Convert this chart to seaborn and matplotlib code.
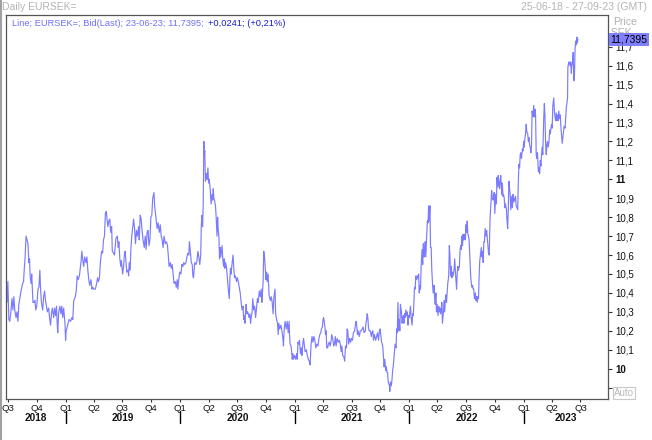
import matplotlib
matplotlib.use("Agg")
import matplotlib.pyplot as plt
import pandas as pd
import seaborn as sns
from matplotlib.lines import Line2D

START = "2018-06-25"
END_VIEW = "2023-09-27"

# (days since 25-06-18, EURSEK bid)
seg_2018 = [(0,10.40),(3,10.35),(6,10.46),(9,10.26),(12,10.25),(15,10.29),(19,10.37),(22,10.31),(25,10.38),(28,10.31),
            (32,10.27),(35,10.30),(38,10.25),(41,10.34),(45,10.38),(48,10.41),(53,10.45),(56,10.46),(58,10.52),(61,10.59),
            (64,10.70),(67,10.68),(70,10.66),(73,10.56),(75,10.58),(77,10.49),(80,10.45),(82,10.50),(86,10.35),(89,10.35),
            (92,10.36),(95,10.31),(98,10.33),(102,10.42),(105,10.43),(108,10.52),(110,10.43),(113,10.35),(117,10.31),(120,10.38),
            (123,10.41),(126,10.36),(129,10.33),(132,10.30),(136,10.32),(139,10.27),(142,10.23),(145,10.29),(148,10.32),(152,10.27),
            (155,10.32),(158,10.28),(161,10.33),(163,10.25),(165,10.19),(168,10.30),(172,10.33),(175,10.29),(178,10.33),(181,10.27),
            (184,10.32),(188,10.24),(190,10.15),(192,10.20),(195,10.22),(198,10.24),(201,10.26),(206,10.25),(210,10.27),(213,10.26),
            (216,10.36),(221,10.38),(224,10.41),(227,10.49),(230,10.47),(234,10.49),(239,10.56),(242,10.62),(245,10.57),(248,10.54),
            (251,10.59),(255,10.56),(258,10.59),(261,10.52),(264,10.47),(267,10.44),(271,10.47),(274,10.42),(277,10.43),(280,10.42)]
seg_2019 = [(285,10.42),(289,10.45),(292,10.48),(295,10.46),(298,10.48),(301,10.56),(305,10.62),(308,10.61),(311,10.68),(314,10.70),
            (317,10.82),(320,10.83),(322,10.79),(325,10.75),(328,10.78),(331,10.79),(334,10.72),(337,10.75),(339,10.62),(343,10.61),
            (346,10.60),(348,10.64),(351,10.69),(355,10.70),(358,10.64),(360,10.67),(363,10.58),(366,10.54),(368,10.57),(372,10.50),
            (375,10.54),(378,10.61),(380,10.62),(383,10.56),(385,10.51),(389,10.52),(391,10.49),(393,10.56),(396,10.52),(398,10.62),
            (401,10.70),(405,10.76),(407,10.79),(410,10.74),(413,10.66),(416,10.73),(419,10.70),(423,10.75),(425,10.68),(428,10.81),
            (431,10.79),(434,10.73),(437,10.68),(441,10.64),(444,10.70),(447,10.63),(450,10.72),(453,10.73),(456,10.65),(459,10.68),
            (462,10.80),(465,10.81),(468,10.90),(472,10.93),(474,10.86),(476,10.83),(479,10.79),(482,10.74),(485,10.77),(489,10.72),
            (492,10.76),(495,10.70),(498,10.68),(501,10.64),(504,10.70),(508,10.66),(512,10.67),(515,10.65),(518,10.59),(520,10.54),
            (524,10.56),(527,10.53),(530,10.55),(533,10.50),(536,10.45),(540,10.46),(543,10.43),(546,10.47),(548,10.42),(551,10.47),
            (554,10.51),(558,10.50),(561,10.55),(564,10.54),(567,10.56),(570,10.55),(574,10.56),(577,10.59),(580,10.61),(583,10.60)]
seg_2020 = [(585,10.67),(587,10.64),(591,10.56),(594,10.55),(596,10.49),(598,10.48),(600,10.52),(602,10.56),(606,10.55),(609,10.57),
            (612,10.62),(615,10.59),(618,10.55),(621,10.60),(623,10.76),(625,10.81),(627,10.75),(629,10.87),(631,11.20),(632,11.13),
            (634,11.15),(636,10.99),(639,11.03),(641,11.00),(644,11.06),(646,10.98),(648,11.00),(650,10.97),(652,10.93),(654,10.87),
            (657,10.92),(659,10.89),(661,10.95),(663,10.90),(665,10.89),(668,10.86),(670,10.81),(673,10.70),(675,10.80),(677,10.73),
            (679,10.70),(681,10.58),(683,10.64),(685,10.59),(689,10.65),(691,10.59),(694,10.54),(696,10.58),(698,10.53),(700,10.56),
            (703,10.54),(707,10.46),(709,10.42),(712,10.37),(714,10.47),(716,10.53),(718,10.50),(720,10.54),(724,10.60),(727,10.52),
            (729,10.48),(732,10.49),(735,10.46),(738,10.48),(742,10.45),(745,10.42),(747,10.40),(750,10.35),(753,10.31),(756,10.33),
            (758,10.26),(760,10.28),(762,10.24),(764,10.30),(766,10.34),(768,10.29),(771,10.30),(775,10.27),(778,10.29),(780,10.24),
            (782,10.27),(785,10.30),(787,10.37),(790,10.31),(793,10.33),(796,10.27),(799,10.32),(802,10.37),(804,10.35),(808,10.41),
            (811,10.38),(814,10.42),(816,10.35),(818,10.40),(820,10.46),(822,10.62),(825,10.58),(827,10.52),(829,10.47),(831,10.51),
            (833,10.46),(836,10.50),(839,10.39),(843,10.36),(846,10.38),(849,10.35),(852,10.29),(854,10.37),(858,10.42),(860,10.29),
            (863,10.26),(866,10.24),(868,10.18),(870,10.24),(873,10.21),(877,10.23),(880,10.20),(883,10.16),(885,10.12),(887,10.20),
            (890,10.25),(894,10.21),(897,10.25),(900,10.19),(903,10.25)]
seg_2021 = [(904,10.19),(906,10.13),(909,10.12),(911,10.09),(913,10.05),(915,10.08),(917,10.05),(920,10.07),(924,10.05),(927,10.08),
            (929,10.05),(931,10.14),(934,10.13),(936,10.15),(939,10.08),(942,10.11),(944,10.07),(947,10.14),(949,10.16),(951,10.13),
            (954,10.09),(958,10.10),(961,10.07),(964,10.05),(967,10.04),(970,10.02),(973,10.13),(976,10.17),(979,10.14),(982,10.17),
            (985,10.15),(988,10.11),(992,10.13),(995,10.12),(998,10.16),(1001,10.18),(1004,10.19),(1006,10.21),(1009,10.22),(1011,10.26),
            (1013,10.27),(1015,10.25),(1017,10.22),(1019,10.18),(1021,10.20),(1023,10.11),(1026,10.11),(1028,10.13),(1031,10.14),(1034,10.12),
            (1037,10.15),(1039,10.18),(1043,10.15),(1045,10.12),(1048,10.13),(1050,10.17),(1053,10.12),(1056,10.16),(1060,10.14),(1063,10.15),
            (1066,10.13),(1069,10.09),(1071,10.12),(1074,10.07),(1078,10.06),(1080,10.04),(1083,10.12),(1086,10.11),(1088,10.21),(1090,10.20),
            (1093,10.13),(1096,10.16),(1099,10.14),(1102,10.16),(1105,10.15),(1108,10.19),(1112,10.20),(1115,10.24),(1117,10.25),(1119,10.22),
            (1121,10.18),(1123,10.20),(1127,10.17),(1130,10.20),(1133,10.20),(1136,10.21),(1139,10.22),(1142,10.19),(1146,10.20),(1148,10.24),
            (1150,10.26),(1152,10.29),(1154,10.27),(1156,10.22),(1158,10.20),(1162,10.20),(1165,10.17),(1167,10.19),(1170,10.20),(1172,10.15),
            (1175,10.18),(1179,10.15),(1182,10.17),(1185,10.19),(1188,10.15),(1191,10.20),(1193,10.21),(1196,10.17),(1198,10.14),(1200,10.13),
            (1202,10.11),(1204,10.06),(1206,10.01),(1208,10.05),(1211,9.99),(1213,10.01),(1215,9.98),(1217,9.98),(1219,9.93),(1221,9.92),
            (1223,9.91),(1224,9.88),(1226,9.93),(1229,9.91),(1231,9.94),(1233,9.99),(1235,10.01),(1237,10.05)]
seg_2022 = [(1241,10.13),(1244,10.11),(1246,10.21),(1248,10.19),(1250,10.35),(1252,10.20),(1254,10.26),(1256,10.20),(1258,10.34),(1261,10.30),
            (1263,10.24),(1265,10.25),(1267,10.28),(1269,10.24),(1271,10.29),(1273,10.27),(1275,10.31),(1278,10.28),(1280,10.30),(1282,10.23),
            (1284,10.28),(1286,10.27),(1288,10.30),(1290,10.33),(1292,10.27),(1295,10.23),(1297,10.29),(1299,10.28),(1301,10.35),(1303,10.43),
            (1305,10.42),(1307,10.49),(1310,10.47),(1312,10.49),(1314,10.48),(1316,10.50),(1318,10.40),(1320,10.44),(1322,10.42),(1324,10.54),
            (1327,10.63),(1329,10.55),(1331,10.66),(1333,10.59),(1335,10.62),(1337,10.67),(1339,10.59),(1341,10.68),(1344,10.78),(1346,10.77),
            (1348,10.86),(1350,10.78),(1352,10.86),(1354,10.64),(1356,10.64),(1358,10.52),(1361,10.43),(1363,10.40),(1365,10.44),(1367,10.38),
            (1369,10.34),(1371,10.40),(1373,10.30),(1375,10.34),(1378,10.28),(1380,10.33),(1382,10.30),(1384,10.32),(1386,10.29),(1388,10.31),
            (1390,10.35),(1392,10.24),(1395,10.30),(1397,10.36),(1399,10.30),(1401,10.36),(1403,10.39),(1405,10.35),(1407,10.40),(1409,10.45),
            (1412,10.49),(1414,10.65),(1416,10.59),(1418,10.49),(1420,10.54),(1422,10.48),(1424,10.51),(1426,10.49),(1429,10.52),(1431,10.58),
            (1433,10.52),(1435,10.47),(1437,10.42),(1439,10.50),(1441,10.54),(1443,10.52),(1446,10.54),(1448,10.62),(1450,10.65),(1452,10.63),
            (1454,10.70),(1456,10.65),(1458,10.71),(1460,10.68),(1463,10.71),(1465,10.68),(1467,10.76),(1469,10.72),(1471,10.78),(1473,10.71),
            (1475,10.70),(1477,10.68),(1480,10.57),(1482,10.49),(1484,10.45),(1486,10.43),(1488,10.44),(1490,10.42),(1492,10.42),(1494,10.37),
            (1497,10.40),(1499,10.36),(1501,10.38),(1503,10.35),(1505,10.38),(1507,10.37),(1509,10.49),(1511,10.57),(1514,10.61),(1516,10.64),
            (1518,10.59),(1520,10.62),(1522,10.56),(1524,10.67),(1526,10.67),(1528,10.74),(1531,10.70),(1533,10.73),(1535,10.69),(1537,10.65),
            (1539,10.61),(1541,10.60)]
seg_2023 = [(1543,10.74),(1544,10.80),(1547,10.88),(1549,10.94),(1551,10.90),(1553,10.89),(1555,10.90),(1557,10.93),(1559,10.82),(1562,10.92),
            (1564,10.87),(1566,11.01),(1568,10.96),(1570,11.02),(1572,10.98),(1574,10.95),(1576,10.99),(1578,11.02),(1581,10.92),(1583,10.98),
            (1585,10.91),(1587,10.92),(1589,10.90),(1591,10.85),(1593,10.87),(1596,10.84),(1598,10.78),(1600,10.74),(1602,10.84),(1604,10.99),
            (1606,10.95),(1608,10.92),(1610,10.84),(1613,10.91),(1615,10.85),(1617,10.92),(1619,10.88),(1621,10.90),(1623,10.89),(1625,10.91),
            (1627,10.86),(1630,10.85),(1632,10.84),(1634,10.99),(1636,11.08),(1638,11.06),(1640,11.13),(1642,11.14),(1644,11.11),(1647,11.16),
            (1649,11.15),(1651,11.20),(1653,11.17),(1655,11.22),(1657,11.24),(1659,11.29),(1661,11.25),(1664,11.24),(1666,11.20),(1668,11.22),
            (1670,11.18),(1672,11.17),(1674,11.14),(1676,11.18),(1678,11.36),(1681,11.33),(1683,11.39),(1685,11.33),(1687,11.37),(1689,11.34),
            (1691,11.13),(1693,11.11),(1695,11.14),(1698,11.04),(1700,11.06),(1702,11.03),(1704,11.10),(1706,11.07),(1708,11.13),(1710,11.17),
            (1712,11.13),(1715,11.32),(1717,11.40),(1719,11.33),(1721,11.19),(1723,11.13),(1725,11.18),(1727,11.20),(1729,11.17),(1732,11.20),
            (1734,11.26),(1736,11.24),(1738,11.27),(1740,11.29),(1742,11.27),(1744,11.39),(1747,11.43),(1749,11.36),(1751,11.33),(1753,11.31),
            (1755,11.35),(1757,11.31),(1759,11.34),(1761,11.31),(1763,11.36),(1766,11.32),(1768,11.34),(1770,11.27),(1772,11.23),(1774,11.19),
            (1776,11.22),(1778,11.25),(1780,11.28),(1783,11.27),(1785,11.32),(1787,11.38),(1789,11.40),(1791,11.43),(1792,11.59),(1794,11.61),
            (1796,11.62),(1799,11.60),(1801,11.62),(1803,11.56),(1805,11.61),(1807,11.61),(1809,11.67),(1811,11.52),(1813,11.55),(1815,11.69),
            (1817,11.73),(1819,11.71),(1821,11.75),(1822,11.72),(1824,11.7395)]

y_tick_values = [9.9, 10.0, 10.1, 10.2, 10.3, 10.4, 10.5, 10.6, 10.7, 10.8, 10.9, 11.0, 11.1, 11.2, 11.3, 11.4, 11.5, 11.6, 11.7]
y_tick_labels = ["", "10", "10,1", "10,2", "10,3", "10,4", "10,5", "10,6", "10,7", "10,8", "10,9",
                 "11", "11,1", "11,2", "11,3", "11,4", "11,5", "11,6", "11,7"]
bold_tick_labels = ["10", "11"]
quarter_labels = ["Q3", "Q4", "Q1", "Q2", "Q3", "Q4", "Q1", "Q2", "Q3", "Q4", "Q1", "Q2", "Q3", "Q4",
                  "Q1", "Q2", "Q3", "Q4", "Q1", "Q2", "Q3"]
year_labels = ["2018", "2019", "2020", "2021", "2022", "2023"]
last_price = 11.7395
last_price_label = "11,7395"
title_left = "Daily EURSEK="
title_right = "25-06-18 - 27-09-23 (GMT)"
header_main = "Line; EURSEK=; Bid(Last); 23-06-23; 11,7395;"
header_change = "+0,0241; (+0,21%)"

sns.set_theme(style="white")
plt.rcParams["font.family"] = ["Liberation Sans", "DejaVu Sans"]

W, H = 652, 440
fig = plt.figure(figsize=(W / 100, H / 100), dpi=100)
fig.patch.set_facecolor("white")


def fx(px):
    return px / W


def fy(py):
    return 1 - py / H


ax = fig.add_axes([fx(6), fy(399), fx(608) - fx(6), fy(15) - fy(399)])
ax.set_facecolor("white")

pairs = seg_2018 + seg_2019 + seg_2020 + seg_2021 + seg_2022 + seg_2023
df = pd.DataFrame(pairs, columns=["day", "price"])
df["date"] = pd.Timestamp(START) + pd.to_timedelta(df["day"], unit="D")

sns.lineplot(data=df, x="date", y="price", ax=ax, color="#7b7bff", linewidth=0.85,
             estimator=None, sort=False)

ax.set_xlim(pd.Timestamp(START), pd.Timestamp(END_VIEW))
ax.set_ylim(9.84, 11.8675)
ax.set_xlabel("")
ax.set_ylabel("")
ax.grid(False)
for s in ax.spines.values():
    s.set_visible(True)
    s.set_color("#555555")
    s.set_linewidth(0.9)

# right price axis
ax.yaxis.tick_right()
ax.set_yticks(y_tick_values)
ax.set_yticklabels(y_tick_labels)
ax.tick_params(axis="y", which="both", right=True, left=False, direction="out", length=3,
               width=0.8, color="#333333", labelsize=7, pad=2, labelcolor="#111111")
for lbl in ax.get_yticklabels():
    if lbl.get_text() in bold_tick_labels:
        lbl.set_fontweight("bold")

# quarter axis
quarters = pd.date_range("2018-07-01", "2023-07-01", freq="QS")
ax.set_xticks(quarters)
ax.set_xticklabels(quarter_labels)
ax.tick_params(axis="x", bottom=True, direction="out", length=2, width=0.8, color="#333333",
               labelsize=6.8, pad=1.5, labelcolor="#111111")

trans = ax.get_xaxis_transform()
year_starts = pd.date_range("2019-01-01", "2023-01-01", freq="YS")
for d in year_starts:
    ax.plot([d, d], [-0.031, -0.0625], transform=trans, color="black", lw=1, clip_on=False)
bounds = [pd.Timestamp(START)] + list(year_starts) + [pd.Timestamp(END_VIEW)]
for lab, a, b in zip(year_labels, bounds[:-1], bounds[1:]):
    ax.text(a + (b - a) / 2, -0.0495, lab, transform=trans, ha="center", va="center",
            fontsize=7.2, fontweight="bold", color="#111111")

# header texts
fig.text(fx(2), fy(7.5), title_left, color="#b4b4b4", fontsize=7.5, ha="left", va="center")
fig.text(fx(647), fy(7.5), title_right, color="#b4b4b4", fontsize=7.5, ha="right", va="center")
main_txt = fig.text(fx(12), fy(23), header_main, color="#7070ff", fontsize=6.7, ha="left", va="center")
fig.add_artist(plt.Annotation(header_change, xy=(1, 0.5), xycoords=main_txt, xytext=(3, 0),
                              textcoords="offset points", color="#1a1ad0", fontsize=6.7,
                              ha="left", va="center"))
fig.text(fx(613), fy(22), "Price", color="#b0b0b0", fontsize=7.5, ha="left", va="center")

# "SEK" sits partly behind the last-price box, as in the reference
ax.text(1.0, 11.772, " SEK", transform=ax.get_yaxis_transform(), color="#b0b0b0", fontsize=7.5,
        ha="left", va="center", zorder=3, clip_on=False)
ax.annotate(last_price_label, xy=(1, last_price), xycoords=("axes fraction", "data"),
            xytext=(1.5, 0), textcoords="offset points", ha="left", va="center", fontsize=7.5,
            color="black", annotation_clip=False, zorder=10,
            bbox=dict(boxstyle="square,pad=0.15", fc="#8080ff", ec="none"))

fig.text(fx(614), fy(393), "Auto", color="#b8b8b8", fontsize=7, ha="left", va="center",
         bbox=dict(boxstyle="square,pad=0.15", fc="white", ec="#c8c8c8", lw=0.8))

fig.add_artist(Line2D([fx(0.7), fx(0.7)], [0, 1], transform=fig.transFigure, color="#a0a0a0", lw=1.5))

fig.savefig("out.png", dpi=100, facecolor="white")
